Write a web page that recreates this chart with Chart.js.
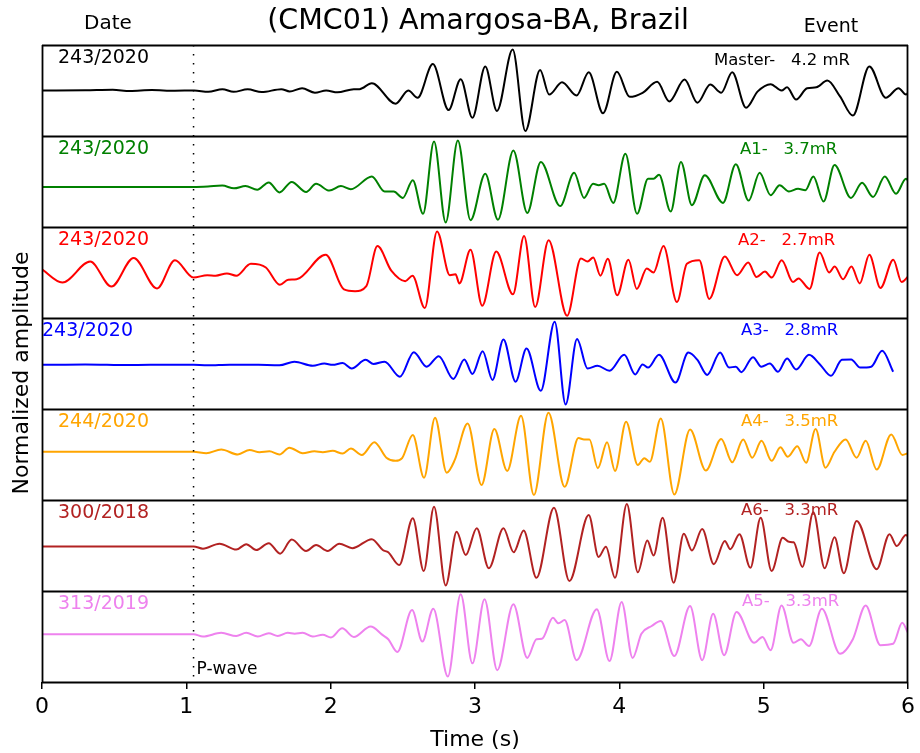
<!DOCTYPE html>
<html>
<head>
<meta charset="utf-8">
<script src="https://cdn.jsdelivr.net/npm/chart.js@4.4.1/dist/chart.umd.min.js"></script>
<style>
  body { margin: 0; background: #fff; }
</style>
</head>
<body>
<canvas id="seis" width="920" height="753"></canvas>
<script>
// waveforms: [time (s), normalized amplitude]
const master = [[0,0],[0.3,0.005],[0.49,0.015],[0.61,-0.01],[0.76,0.01],[0.92,-0.005],[1.055,0],[1.152,-0.03],[1.25,0.03],[1.327,-0.03],[1.425,0.025],[1.522,-0.035],[1.658,0.03],[1.716,-0.02],[1.802,0.05],[1.891,-0.05],[1.969,0],[2.047,-0.04],[2.16,0.03],[2.2,0.03],[2.285,0.16],[2.45,-0.29],[2.538,0],[2.602,-0.16],[2.708,0.58],[2.817,-0.43],[2.901,0.25],[2.982,-0.6],[3.071,0.53],[3.152,-0.45],[3.261,0.9],[3.349,-0.89],[3.451,0.45],[3.514,-0.09],[3.603,0.18],[3.704,-0.11],[3.788,0.4],[3.887,-0.5],[3.983,0.41],[4.072,-0.14],[4.161,-0.05],[4.262,0.19],[4.346,-0.24],[4.452,0.24],[4.541,-0.27],[4.63,0.13],[4.706,-0.05],[4.782,0.4],[4.878,-0.38],[4.959,-0.02],[5.048,0.14],[5.124,0],[5.162,0.07],[5.225,-0.2],[5.301,0.05],[5.365,0.07],[5.441,0.22],[5.529,-0.13],[5.618,-0.55],[5.732,0.53],[5.846,-0.16],[5.935,0.05],[5.986,-0.09],[6,-0.05]];
const evA1 = [[0,-0.12],[0.5,-0.12],[1.051,-0.12],[1.15,-0.11],[1.249,-0.09],[1.33,-0.15],[1.41,-0.1],[1.491,-0.18],[1.571,-0.02],[1.645,-0.24],[1.73,-0.01],[1.83,-0.23],[1.899,-0.05],[1.991,-0.2],[2.071,-0.1],[2.14,-0.17],[2.285,0.11],[2.374,-0.22],[2.437,-0.22],[2.5,-0.36],[2.569,0.03],[2.64,-0.71],[2.716,0.88],[2.797,-0.9],[2.881,0.9],[2.969,-0.85],[3.071,0.17],[3.159,-0.84],[3.266,0.68],[3.362,-0.69],[3.456,0.43],[3.59,-0.54],[3.687,0.19],[3.755,-0.36],[3.818,-0.05],[3.857,-0.08],[3.895,-0.05],[3.958,-0.47],[4.042,0.61],[4.123,-0.71],[4.199,0.06],[4.237,0.06],[4.275,0.15],[4.356,-0.66],[4.427,0.43],[4.503,-0.52],[4.592,0.14],[4.718,-0.47],[4.807,0.38],[4.896,-0.42],[4.972,0.19],[5.048,-0.3],[5.111,-0.08],[5.175,-0.22],[5.238,-0.16],[5.289,-0.19],[5.344,0.11],[5.415,-0.44],[5.491,0.36],[5.605,-0.36],[5.682,-0.03],[5.758,-0.34],[5.839,0.11],[5.917,-0.27],[5.986,0.06],[6,0.02]];
const evA2 = [[0,0.07],[0.141,-0.22],[0.334,0.24],[0.481,-0.31],[0.635,0.32],[0.797,-0.35],[0.921,0.27],[1.049,-0.11],[1.145,-0.06],[1.203,-0.07],[1.281,-0.02],[1.346,-0.07],[1.447,0.19],[1.551,0.11],[1.648,-0.27],[1.706,-0.16],[1.764,-0.15],[1.965,0.39],[2.092,-0.37],[2.169,-0.41],[2.247,-0.3],[2.324,0.58],[2.42,0.04],[2.517,-0.19],[2.567,-0.07],[2.652,-0.78],[2.737,0.9],[2.826,-0.06],[2.865,-0.04],[2.892,-0.24],[2.969,0.5],[3.05,-0.73],[3.147,0.46],[3.263,-0.48],[3.34,0.8],[3.417,-0.76],[3.51,0.71],[3.638,-0.95],[3.734,0.31],[3.78,0.24],[3.819,0.33],[3.869,-0.07],[3.92,0.3],[3.985,-0.5],[4.063,0.28],[4.121,-0.36],[4.19,0.09],[4.237,0],[4.306,0.58],[4.399,-0.65],[4.468,0.19],[4.554,0.27],[4.623,-0.58],[4.731,0.35],[4.816,-0.06],[4.893,0.22],[4.951,-0.1],[5.009,0.02],[5.056,-0.11],[5.125,0.27],[5.203,-0.21],[5.241,-0.13],[5.318,-0.36],[5.388,0.44],[5.454,0],[5.492,0.13],[5.55,-0.15],[5.608,0.13],[5.666,-0.24],[5.732,0.39],[5.809,-0.34],[5.898,0.28],[5.956,-0.21],[6,-0.09]];
const evA3 = [[0,-0.03],[0.3,-0.02],[0.6,-0.035],[0.9,-0.025],[1.05,-0.03],[1.15,-0.04],[1.3,-0.025],[1.5,-0.03],[1.645,-0.04],[1.749,0.04],[1.876,-0.05],[1.956,0],[2.014,-0.03],[2.083,0.01],[2.145,-0.11],[2.242,0.08],[2.297,-0.01],[2.374,0.04],[2.48,-0.29],[2.576,0.25],[2.665,-0.07],[2.749,0.16],[2.85,-0.34],[2.926,0.09],[2.982,-0.23],[3.053,0.27],[3.121,-0.36],[3.197,0.53],[3.281,-0.4],[3.357,0.33],[3.456,-0.6],[3.552,0.92],[3.628,-0.9],[3.707,0.54],[3.78,-0.11],[3.849,-0.05],[3.932,-0.16],[4.034,0.19],[4.11,-0.24],[4.161,-0.02],[4.199,-0.09],[4.275,0.19],[4.389,-0.42],[4.478,0.24],[4.541,0.08],[4.609,-0.25],[4.698,0.24],[4.761,-0.09],[4.807,-0.07],[4.845,-0.19],[4.926,0.14],[4.984,-0.07],[5.043,0],[5.099,-0.18],[5.162,0.11],[5.225,-0.13],[5.314,0.19],[5.39,-0.02],[5.466,-0.27],[5.542,0.08],[5.606,0.09],[5.669,-0.09],[5.745,-0.07],[5.821,0.28],[5.897,-0.18]];
const evA4 = [[0,0.06],[0.5,0.06],[1.05,0.06],[1.138,0.03],[1.242,0.11],[1.357,0],[1.438,0.1],[1.507,0.05],[1.576,0.07],[1.645,0],[1.714,0.15],[1.806,0.03],[1.887,0.07],[1.945,0.05],[2.014,0.08],[2.083,0.02],[2.14,0.13],[2.216,-0.01],[2.303,0.27],[2.386,-0.07],[2.45,-0.14],[2.495,-0.08],[2.569,0.43],[2.647,-0.51],[2.723,0.81],[2.804,-0.4],[2.86,-0.12],[2.949,0.68],[3.045,-0.67],[3.134,0.56],[3.223,-0.36],[3.319,0.85],[3.408,-0.89],[3.509,0.92],[3.621,-0.71],[3.717,0.36],[3.755,0.33],[3.793,0.33],[3.851,-0.3],[3.915,0.27],[3.97,-0.36],[4.047,0.72],[4.128,-0.23],[4.173,-0.08],[4.211,-0.16],[4.287,0.79],[4.381,-0.88],[4.49,0.55],[4.599,-0.35],[4.706,0.34],[4.782,-0.17],[4.858,0.33],[4.921,-0.07],[4.985,0.3],[5.055,-0.14],[5.116,0.16],[5.167,-0.05],[5.233,0.18],[5.294,-0.18],[5.36,0.56],[5.428,-0.29],[5.491,0.06],[5.568,0.33],[5.644,-0.07],[5.707,0.3],[5.783,-0.33],[5.884,0.44],[5.961,-0.01],[6,0.03]];
const evA6 = [[0,-0.02],[0.5,-0.02],[1.05,-0.02],[1.115,-0.07],[1.23,0.04],[1.346,-0.09],[1.415,0.03],[1.484,-0.1],[1.571,0.05],[1.65,-0.18],[1.73,0.13],[1.83,-0.12],[1.899,0.01],[1.979,-0.12],[2.06,0.04],[2.15,-0.06],[2.285,0.14],[2.361,-0.1],[2.399,-0.15],[2.475,-0.43],[2.569,0.6],[2.645,-0.56],[2.716,0.85],[2.797,-0.88],[2.873,0.3],[2.936,-0.21],[3.012,0.38],[3.096,-0.5],[3.197,0.38],[3.268,-0.15],[3.337,0.33],[3.426,-0.71],[3.547,0.83],[3.654,-0.78],[3.788,0.67],[3.856,-0.25],[3.907,-0.03],[3.97,-0.71],[4.052,0.91],[4.128,-0.59],[4.194,0.11],[4.237,-0.22],[4.3,0.61],[4.376,-0.82],[4.447,0.26],[4.503,-0.11],[4.574,0.36],[4.655,-0.41],[4.731,0.1],[4.769,-0.08],[4.832,0.25],[4.908,-0.49],[4.979,0.61],[5.055,-0.56],[5.132,0.17],[5.175,0.08],[5.208,0.07],[5.268,-0.47],[5.344,0.73],[5.423,-0.5],[5.491,0.18],[5.555,-0.61],[5.644,0.54],[5.783,-0.52],[5.872,0.25],[5.922,-0.01],[5.986,0.23],[6,0.2]];
const evA5 = [[0,0.05],[0.5,0.05],[1.05,0.05],[1.115,0],[1.242,0.08],[1.346,0.01],[1.415,0.08],[1.495,0],[1.571,0.07],[1.634,0.01],[1.703,0.08],[1.75,0.06],[1.806,0.08],[1.876,0],[1.945,0.04],[2.002,-0.02],[2.08,0.18],[2.16,-0.01],[2.277,0.22],[2.361,0.03],[2.399,-0.06],[2.462,-0.34],[2.564,0.58],[2.635,-0.11],[2.711,0.61],[2.812,-0.88],[2.901,0.93],[2.982,-0.59],[3.066,0.82],[3.154,-0.74],[3.266,0.71],[3.362,-0.47],[3.426,-0.06],[3.464,-0.05],[3.54,0.41],[3.578,0.29],[3.621,0.36],[3.704,-0.52],[3.844,0.6],[3.932,-0.54],[4.016,0.76],[4.092,-0.47],[4.153,0.06],[4.224,0.23],[4.287,0.34],[4.381,-0.43],[4.49,0.67],[4.574,-0.52],[4.65,0.5],[4.726,-0.41],[4.812,0.54],[4.934,-0.14],[4.992,-0.01],[5.048,-0.3],[5.124,0.68],[5.207,-0.14],[5.258,-0.06],[5.314,-0.21],[5.403,0.61],[5.529,-0.38],[5.618,-0.06],[5.707,0.68],[5.808,-0.19],[5.897,-0.16],[5.96,0.3],[6,0.08]];

const dates = ['243/2020', '243/2020', '243/2020', '243/2020', '244/2020', '300/2018', '313/2019'];
const events = ['Master-   4.2 mR', 'A1-   3.7mR', 'A2-   2.7mR', 'A3-   2.8mR', 'A4-   3.5mR', 'A6-   3.3mR', 'A5-   3.3mR'];
const xTicks = [0, 1, 2, 3, 4, 5, 6];
const pWave = 1.05; // P-wave onset (s)

const traces = [master, evA1, evA2, evA3, evA4, evA6, evA5];
const colors = ['#000000', '#008000', '#ff0000', '#0000ff', '#ffa500', '#b22222', '#ee82ee'];
const dateOffset = [16, 16, 16, 0, 16, 16, 16];   // px from left edge
const eventX = [714, 740, 738, 741, 741, 741, 742];
const eventDy = [16, 14, 14, 13, 13, 11, 11];
const FONT = '"DejaVu Sans", sans-serif';

const nPanels = traces.length;
const datasets = traces.map((wave, i) => ({
  data: wave.map(p => ({ x: p[0], y: (nPanels - i - 0.5) + p[1] * 0.5 })),
  borderColor: colors[i],
  borderWidth: 2,
  pointRadius: 0,
  fill: false,
  cubicInterpolationMode: 'monotone'
}));

// panel frames, P-wave marker and all the free text
const decorations = {
  id: 'decorations',
  afterDatasetsDraw(chart) {
    const { ctx, chartArea: a, scales: { x, y } } = chart;
    ctx.save();
    ctx.strokeStyle = '#000';
    ctx.lineWidth = 1.8;
    for (let k = 0; k <= nPanels; k++) {
      const py = Math.round(y.getPixelForValue(k)) + 0.5;
      ctx.beginPath(); ctx.moveTo(a.left, py); ctx.lineTo(a.right, py); ctx.stroke();
    }
    ctx.beginPath();
    ctx.moveTo(a.left + 0.5, a.top); ctx.lineTo(a.left + 0.5, a.bottom);
    ctx.moveTo(a.right - 0.5, a.top); ctx.lineTo(a.right - 0.5, a.bottom);
    ctx.stroke();

    // dotted P-wave line
    const px = x.getPixelForValue(pWave);
    ctx.lineWidth = 1.5;
    ctx.setLineDash([1.5, 7.5]);
    ctx.beginPath(); ctx.moveTo(px, a.top); ctx.lineTo(px, a.bottom); ctx.stroke();
    ctx.setLineDash([]);

    ctx.textBaseline = 'middle';
    ctx.fillStyle = '#000';
    ctx.font = '17px ' + FONT;
    ctx.textAlign = 'left';
    ctx.fillText('P-wave', px + 3, a.bottom - 12);

    for (let i = 0; i < nPanels; i++) {
      const top = y.getPixelForValue(nPanels - i);
      ctx.fillStyle = colors[i];
      ctx.font = '19px ' + FONT;
      ctx.fillText(dates[i], a.left + dateOffset[i], top + 13);
      ctx.font = '16.5px ' + FONT;
      ctx.fillText(events[i], eventX[i], top + eventDy[i]);
    }

    ctx.fillStyle = '#000';
    ctx.font = '28.5px ' + FONT;
    ctx.textAlign = 'center';
    ctx.fillText('(CMC01) Amargosa-BA, Brazil', 478, 22);
    ctx.font = '20px ' + FONT;
    ctx.fillText('Date', 108, 24);
    ctx.font = '19px ' + FONT;
    ctx.fillText('Event', 831, 27);

    ctx.translate(22, 373);
    ctx.rotate(-Math.PI / 2);
    ctx.font = '22px ' + FONT;
    ctx.fillText('Normalized amplitude', 0, 0);
    ctx.restore();
  }
};

new Chart(document.getElementById('seis'), {
  type: 'line',
  data: { datasets },
  options: {
    responsive: false,
    animation: false,
    layout: { padding: { left: 42, right: 10, top: 45, bottom: 0 } },
    plugins: { legend: { display: false }, tooltip: { enabled: false } },
    scales: {
      x: {
        type: 'linear',
        min: 0,
        max: 6,
        afterBuildTicks: s => { s.ticks = xTicks.map(v => ({ value: v })); },
        afterFit: s => { s.height = 71; },
        border: { display: false },
        grid: { drawOnChartArea: false, drawTicks: true, tickLength: 7, color: '#000', lineWidth: 1.5 },
        ticks: { color: '#000', font: { family: FONT, size: 22 }, padding: 5, maxRotation: 0 },
        title: { display: true, text: 'Time (s)', color: '#000', font: { family: FONT, size: 22 }, padding: 0 }
      },
      y: { display: false, min: 0, max: nPanels }
    }
  },
  plugins: [decorations]
});
</script>
</body>
</html>
